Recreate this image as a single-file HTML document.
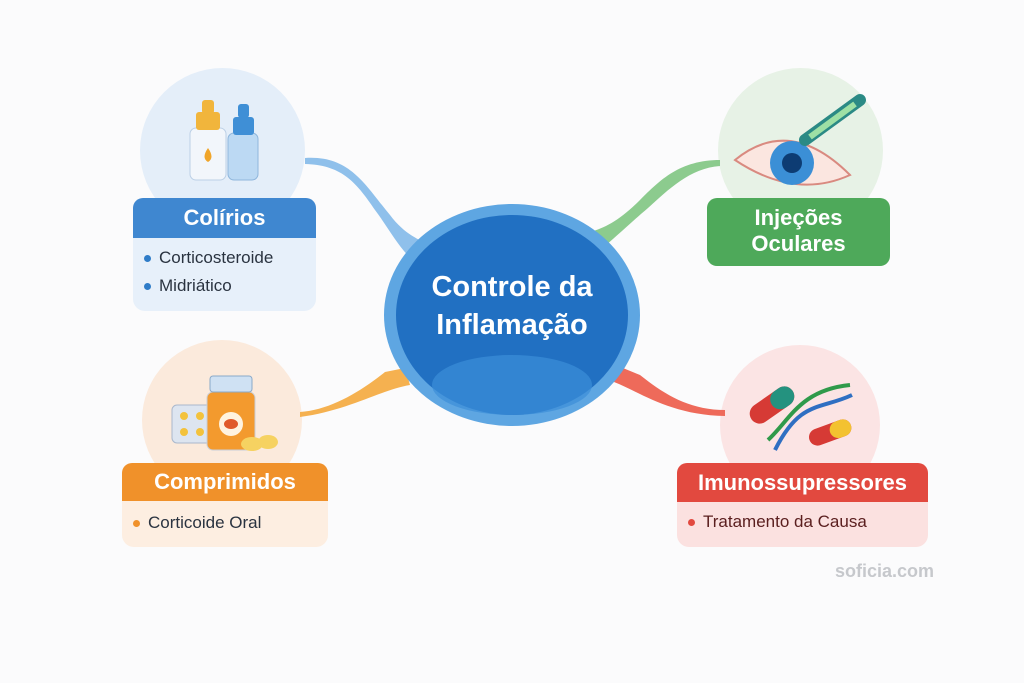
<!DOCTYPE html>
<html><head><meta charset="utf-8"><style>
body{margin:0;width:1024px;height:683px;background:#fbfbfc;font-family:"Liberation Sans",sans-serif;overflow:hidden;position:relative}
.a{position:absolute}
.c{position:absolute;border-radius:50%}
.h{position:absolute;color:#fff;font-weight:bold;text-align:center;border-radius:10px 10px 0 0}
.b{position:absolute;border-radius:0 0 12px 12px;font-size:17px;color:#2a3340}
.b div{position:relative;padding-left:26px;height:28px;line-height:28px}
.b div:before{content:"";position:absolute;left:11px;top:11px;width:7px;height:7px;border-radius:50%;background:var(--d)}
</style></head><body>
<div class="c" style="left:140px;top:68px;width:165px;height:165px;background:#e4eef9"></div>
<div class="c" style="left:718px;top:68px;width:165px;height:165px;background:#e7f2e6"></div>
<div class="c" style="left:142px;top:340px;width:160px;height:160px;background:#fbeadc"></div>
<div class="c" style="left:720px;top:345px;width:160px;height:160px;background:#fbe4e4"></div>
<svg class="a" style="left:0;top:0" width="1024" height="683">
<path d="M305 158 C350 155 365 185 390 215 C405 235 420 240 430 245 L415 262 C400 250 390 230 375 210 C355 180 340 165 305 164Z" fill="#8fc0eb"/>
<path d="M720 160 C680 160 660 180 640 200 C620 220 605 228 590 232 L600 250 C615 238 628 225 648 208 C668 190 690 168 720 166Z" fill="#8ccb8e"/>
<path d="M300 412 C330 410 360 392 385 372 L405 368 L410 385 C380 390 350 410 300 417Z" fill="#f5b150"/>
<path d="M725 410 C690 410 665 395 640 375 L618 366 L614 382 C640 392 670 415 725 416Z" fill="#ee6a5a"/>
<ellipse cx="512" cy="315" rx="128" ry="111" fill="#5ea6e2"/>
<ellipse cx="512" cy="315" rx="116" ry="100" fill="#2170c2"/>
<ellipse cx="512" cy="385" rx="80" ry="30" fill="#3c8fd8" opacity=".7"/>
<rect x="190" y="128" width="36" height="52" rx="6" fill="#f2f6fb" stroke="#bcd0e6"/>
<rect x="196" y="112" width="24" height="18" rx="3" fill="#f1b53c"/><rect x="202" y="100" width="12" height="14" rx="3" fill="#f1b53c"/>
<path d="M208 148 q-7 10 0 14 q7-4 0-14z" fill="#f0a52a"/>
<rect x="228" y="133" width="30" height="47" rx="6" fill="#bcd9f3" stroke="#8fb6dc"/>
<rect x="233" y="117" width="21" height="18" rx="3" fill="#3f8fd6"/><rect x="238" y="104" width="11" height="14" rx="3" fill="#3f8fd6"/>
<path d="M735 160 Q790 115 850 175 Q795 200 735 160Z" fill="#fbe6e0" stroke="#d98a80" stroke-width="2"/>
<circle cx="792" cy="163" r="22" fill="#3b8fd6"/><circle cx="792" cy="163" r="10" fill="#0d3c73"/>
<path d="M805 140 L860 100" stroke="#2b8a85" stroke-width="12" stroke-linecap="round"/>
<path d="M810 137 L855 104" stroke="#9ee0a5" stroke-width="6"/>
<rect x="172" y="405" width="42" height="38" rx="5" fill="#dde5f0" stroke="#aab8cc"/>
<circle cx="184" cy="416" r="4" fill="#f3c23c"/><circle cx="200" cy="416" r="4" fill="#f3c23c"/><circle cx="184" cy="432" r="4" fill="#f3c23c"/><circle cx="200" cy="432" r="4" fill="#f3c23c"/>
<rect x="207" y="392" width="48" height="58" rx="6" fill="#f39a2e" stroke="#c9cfd8"/>
<rect x="210" y="376" width="42" height="16" rx="3" fill="#cfe1f3" stroke="#8aa9c8"/>
<circle cx="231" cy="424" r="12" fill="#fff3df"/><ellipse cx="231" cy="424" rx="7" ry="5" fill="#e05a2a"/>
<ellipse cx="252" cy="444" rx="11" ry="7" fill="#f6d261"/><ellipse cx="268" cy="442" rx="10" ry="7" fill="#f6d261"/>
<g transform="rotate(-35 772 405)"><rect x="747" y="395" width="50" height="20" rx="10" fill="#d63a35"/><rect x="772" y="395" width="25" height="20" rx="10" fill="#24927f"/></g>
<g transform="rotate(-20 830 432)"><rect x="808" y="424" width="44" height="17" rx="8.5" fill="#d63a35"/><rect x="830" y="424" width="22" height="17" rx="8.5" fill="#f3c230"/></g>
<path d="M768 440 C790 420 800 390 850 385" stroke="#2f9a4a" stroke-width="4" fill="none"/>
<path d="M775 450 C800 400 820 410 852 395" stroke="#2f6fc2" stroke-width="4" fill="none"/>
</svg>
<div class="a" style="left:386px;top:268px;width:252px;text-align:center;color:#fff;font-weight:bold;font-size:29px;line-height:38px">Controle da<br>Inflamação</div>
<div class="h" style="left:133px;top:198px;width:183px;height:40px;line-height:40px;background:#3f87d0;font-size:22px">Colírios</div>
<div class="b" style="--d:#2f7cc8;left:133px;top:238px;width:183px;height:73px;background:#e7f0fa;padding-top:6px;box-sizing:border-box"><div>Corticosteroide</div><div>Midriático</div></div>
<div class="a" style="left:707px;top:198px;width:183px;height:68px;border-radius:10px;background:#4ea95a;color:#fff;font-weight:bold;font-size:22px;line-height:26px;text-align:center;padding-top:7px;box-sizing:border-box">Injeções<br>Oculares</div>
<div class="h" style="left:122px;top:463px;width:206px;height:38px;line-height:38px;background:#f0912a;font-size:22px">Comprimidos</div>
<div class="b" style="--d:#f0912a;left:122px;top:501px;width:206px;height:46px;background:#fdeee1;padding-top:8px;box-sizing:border-box"><div>Corticoide Oral</div></div>
<div class="h" style="left:677px;top:463px;width:251px;height:39px;line-height:39px;background:#e2493f;font-size:22px">Imunossupressores</div>
<div class="b" style="--d:#e2493f;left:677px;top:502px;width:251px;height:45px;background:#fbe1e0;padding-top:6px;box-sizing:border-box;color:#5a1e1e"><div>Tratamento da Causa</div></div>
<div class="a" style="left:835px;top:561px;color:#c6c8cc;font-weight:bold;font-size:18px">soficia.com</div>
</body></html>
